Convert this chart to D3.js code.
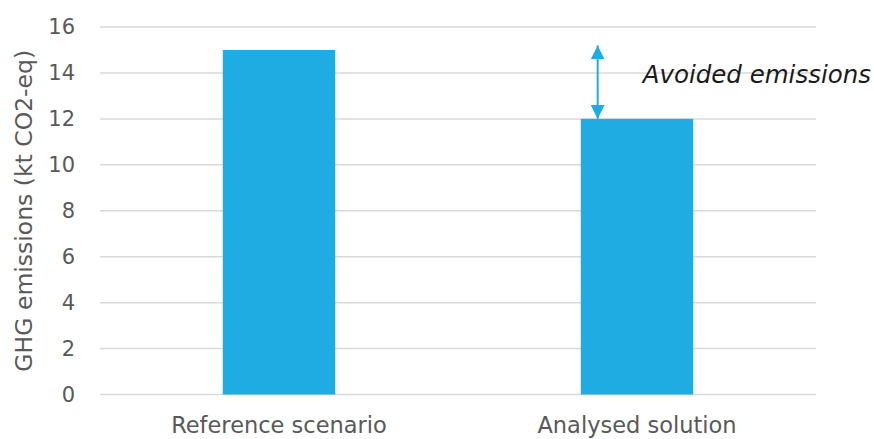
<!DOCTYPE html>
<html>
<head>
<meta charset="utf-8">
<script src="https://cdn.jsdelivr.net/npm/d3@7"></script>
<style>
html,body{margin:0;padding:0;background:#fff;}
svg{display:block;font-family:"DejaVu Sans",sans-serif;}
</style>
</head>
<body>
<svg id="chart" width="874" height="439"></svg>
<script>
const categories = ["Reference scenario", "Analysed solution"];
const values = [15, 12];
const yTicks = [0, 2, 4, 6, 8, 10, 12, 14, 16];
const yTitle = ["GHG emissions (kt CO2-eq)"];
const annotationLabel = ["Avoided emissions"];
const arrowRange = [12, 15.2];

const W = 874, H = 439;
const margin = {left: 100, right: 58, top: 27, bottom: 44.5};
const svg = d3.select("#chart");
const FONT = "'DejaVu Sans',sans-serif";

const x = d3.scaleBand().domain(categories)
  .range([margin.left, W - margin.right])
  .paddingInner(0.686).paddingOuter(0.343);
const y = d3.scaleLinear().domain([0, 16]).range([H - margin.bottom, margin.top]);

// grid
svg.append("g").selectAll("line").data(yTicks).join("line")
  .attr("x1", margin.left).attr("x2", W - margin.right)
  .attr("y1", d => y(d)).attr("y2", d => y(d))
  .attr("stroke", "#d9d9d9").attr("stroke-width", 1.5);

// bars
svg.append("g").selectAll("rect").data(values).join("rect")
  .attr("x", (d, i) => x(categories[i]))
  .attr("width", x.bandwidth())
  .attr("y", d => y(d))
  .attr("height", d => y(0) - y(d))
  .attr("fill", "#1eace2");

// y axis
const yAxis = d3.axisLeft(y).tickValues(yTicks).tickSize(0).tickPadding(25);
const gy = svg.append("g").attr("transform", `translate(${margin.left},0)`).call(yAxis);
gy.select(".domain").remove();
gy.selectAll("text").attr("font-size", 21).attr("fill", "#595959")
  .attr("font-family", FONT);

// x axis
const xAxis = d3.axisBottom(x).tickSize(0).tickPadding(23);
const gx = svg.append("g").attr("transform", `translate(0,${y(0)})`).call(xAxis);
gx.select(".domain").remove();
gx.selectAll("text").attr("font-size", 22.5).attr("fill", "#595959")
  .attr("font-family", FONT);

// y title
svg.append("text")
  .attr("transform", `translate(32,${(y(0) + y(16)) / 2}) rotate(-90)`)
  .attr("text-anchor", "middle")
  .attr("font-size", 23.5).attr("fill", "#595959")
  .attr("font-family", FONT)
  .text(yTitle[0]);

// arrow
const ax = x(categories[1]) + x.bandwidth() * 0.15;
const defs = svg.append("defs");
defs.append("marker").attr("id", "ah").attr("viewBox", "0 0 10 10")
  .attr("refX", 10).attr("refY", 5).attr("markerWidth", 7).attr("markerHeight", 7)
  .attr("markerUnits", "strokeWidth").attr("orient", "auto-start-reverse")
  .append("path").attr("d", "M0,0 L10,5 L0,10 Z").attr("fill", "#1eace2");
svg.append("line")
  .attr("x1", ax).attr("x2", ax)
  .attr("y1", y(arrowRange[0])).attr("y2", y(arrowRange[1]))
  .attr("stroke", "#1eace2").attr("stroke-width", 2)
  .attr("marker-start", "url(#ah)").attr("marker-end", "url(#ah)");

svg.append("text")
  .attr("x", ax + 45).attr("y", 83)
  .attr("font-size", 24.5).attr("font-style", "italic").attr("fill", "#1a1a1a")
  .attr("font-family", FONT)
  .text(annotationLabel[0]);
</script>
</body>
</html>
